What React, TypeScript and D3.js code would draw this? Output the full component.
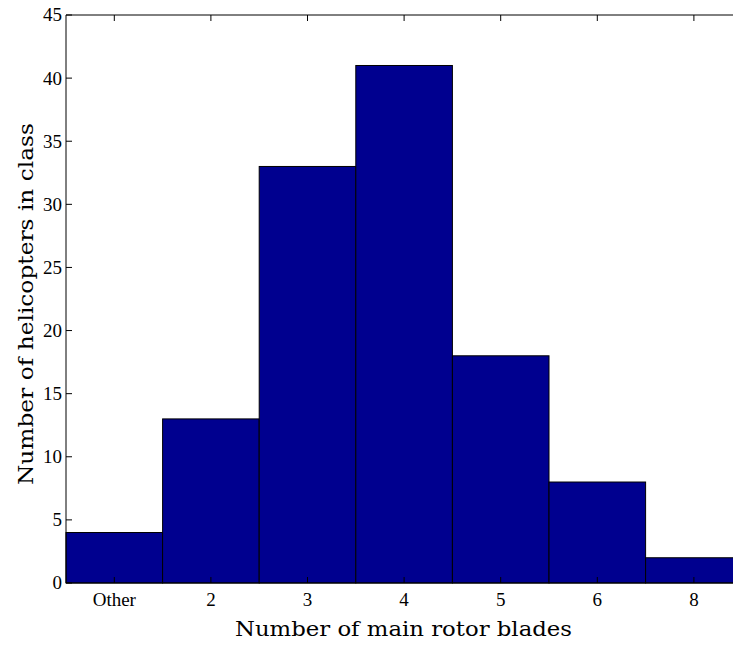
import React from "react";
import * as d3 from "d3";

const categories = ["Other", "2", "3", "4", "5", "6", "8"];
const counts = [4, 13, 33, 41, 18, 8, 2];
const yTicks = [0, 5, 10, 15, 20, 25, 30, 35, 40, 45];

export default function App() {
  const W = 733, H = 647;
  const left = 66, top = 15, bottom = 583;
  const bw = 96.6;
  const x = d3.scaleLinear().domain([0.5, 1.5]).range([left, left + bw]);
  const y = d3.scaleLinear().domain([0, 45]).range([bottom, top]);
  const xMax = x(7.5);
  const font = "'Liberation Serif', 'Times New Roman', serif";
  const labelFont = "'DejaVu Serif', serif";
  return (
    <svg width={W} height={H} style={{ position: "absolute", left: 0, top: 0 }} fontFamily={font}>
      <rect x={0} y={0} width={W} height={H} fill="#fff" />
      {counts.map((c, i) => (
        <rect key={i} x={x(i + 0.5)} y={y(c)} width={x(i + 1.5) - x(i + 0.5)} height={y(0) - y(c)}
          fill="#00008f" stroke="#000" strokeWidth={1} />
      ))}
      <line x1={left} x2={left} y1={top} y2={bottom} stroke="#000" strokeWidth={1} />
      <line x1={left} x2={xMax} y1={bottom} y2={bottom} stroke="#000" strokeWidth={1} />
      <line x1={left} x2={xMax} y1={top} y2={top} stroke="#000" strokeWidth={1} />
      <line x1={xMax} x2={xMax} y1={top} y2={bottom} stroke="#000" strokeWidth={1} />
      {yTicks.map((t) => (
        <g key={t}>
          <line x1={left} x2={left + 6} y1={y(t)} y2={y(t)} stroke="#000" />
          <text x={left - 4} y={y(t)} dy="0.34em" textAnchor="end" fontSize={19}>{t}</text>
        </g>
      ))}
      {categories.map((c, i) => (
        <g key={c}>
          <line x1={x(i + 1)} x2={x(i + 1)} y1={top} y2={top + 6} stroke="#000" />
          <line x1={x(i + 1)} x2={x(i + 1)} y1={bottom} y2={bottom - 6} stroke="#000" />
          <text x={x(i + 1)} y={bottom + 23} textAnchor="middle" fontSize={19}>{c}</text>
        </g>
      ))}
      <text x={403.5} y={636} textAnchor="middle" fontSize={19.5} fontFamily={labelFont} fontWeight={300}
        textLength={337} lengthAdjust="spacingAndGlyphs">Number of main rotor blades</text>
      <text transform={`translate(33,304) rotate(-90)`} textAnchor="middle" fontSize={19.5} fontFamily={labelFont}
        textLength={362} lengthAdjust="spacingAndGlyphs">
        Number of helicopters in class
      </text>
    </svg>
  );
}
